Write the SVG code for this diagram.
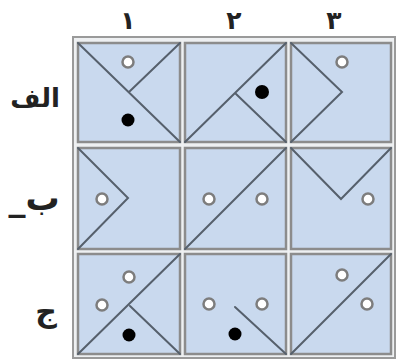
<svg xmlns="http://www.w3.org/2000/svg" width="400" height="360" viewBox="0 0 400 360">
<style>
.frame{fill:#eef0f2;stroke:#9a9a9a;stroke-width:2}
.cell{fill:#c9d9ee;stroke:#8c8c8c;stroke-width:2.5}
.ln{stroke:#56606c;stroke-width:2;fill:none;stroke-linecap:round;stroke-linejoin:miter}
.w{fill:#ffffff;stroke:#7d7d7d;stroke-width:2.5}
.b{fill:#000000}
.lbl{font-family:"DejaVu Sans",sans-serif;font-size:25px;font-weight:bold;fill:#222;text-anchor:middle}
.rl{font-family:"DejaVu Sans",sans-serif;font-size:26px;font-weight:bold;fill:#222;text-anchor:middle}
</style>
<rect width="400" height="360" fill="#ffffff"/>
<g id="labels">
<text class="lbl" x="128" y="29">۱</text>
<text class="lbl" x="234" y="29">۲</text>
<text class="lbl" x="334" y="29">۳</text>
<text class="rl" x="35" y="107">الف</text>
<text class="rl" x="34" y="210" style="font-size:34px">_ب</text>
<text class="rl" x="46" y="322" style="font-size:30px">ج</text>
</g>
<rect class="frame" x="73" y="37" width="322" height="321"/>
<g id="A1">
<rect class="cell" x="78" y="43" width="102" height="99"/>
<path class="ln" d="M78,43 L180,142 M180,43 L129,92"/>
<circle class="w" cx="128" cy="62" r="5.5"/>
<circle class="b" cx="128" cy="120" r="6.5"/>
</g>
<g id="A2">
<rect class="cell" x="185" y="43" width="101" height="99"/>
<path class="ln" d="M185,142 L286,43 M235,93 L286,142"/>
<circle class="b" cx="262" cy="92" r="7"/>
</g>
<g id="A3">
<rect class="cell" x="291" y="43" width="100" height="99"/>
<path class="ln" d="M291,43 L342,92 L291,142"/>
<circle class="w" cx="342" cy="62" r="5.5"/>
</g>
<g id="B1">
<rect class="cell" x="78" y="148" width="102" height="101"/>
<path class="ln" d="M78,148 L128,198 L78,249"/>
<circle class="w" cx="102" cy="199" r="5.5"/>
</g>
<g id="B2">
<rect class="cell" x="185" y="148" width="101" height="101"/>
<path class="ln" d="M185,249 L286,148"/>
<circle class="w" cx="209" cy="199" r="5.5"/>
<circle class="w" cx="262" cy="199" r="5.5"/>
</g>
<g id="B3">
<rect class="cell" x="291" y="148" width="100" height="101"/>
<path class="ln" d="M291,148 L341,199 L391,148"/>
<circle class="w" cx="368" cy="199" r="5.5"/>
</g>
<g id="C1">
<rect class="cell" x="78" y="254" width="102" height="100"/>
<path class="ln" d="M78,354 L180,254 M130,306 L180,354"/>
<circle class="w" cx="129" cy="277" r="5.5"/>
<circle class="w" cx="102" cy="305" r="5.5"/>
<circle class="b" cx="129" cy="335" r="6.5"/>
</g>
<g id="C2">
<rect class="cell" x="185" y="254" width="101" height="100"/>
<path class="ln" d="M235,307 L286,354"/>
<circle class="w" cx="209" cy="304" r="5.5"/>
<circle class="w" cx="262" cy="304" r="5.5"/>
<circle class="b" cx="235" cy="334" r="6.5"/>
</g>
<g id="C3">
<rect class="cell" x="291" y="254" width="100" height="100"/>
<path class="ln" d="M291,354 L391,254"/>
<circle class="w" cx="342" cy="275" r="5.5"/>
<circle class="w" cx="367" cy="304" r="5.5"/>
</g>
</svg>
